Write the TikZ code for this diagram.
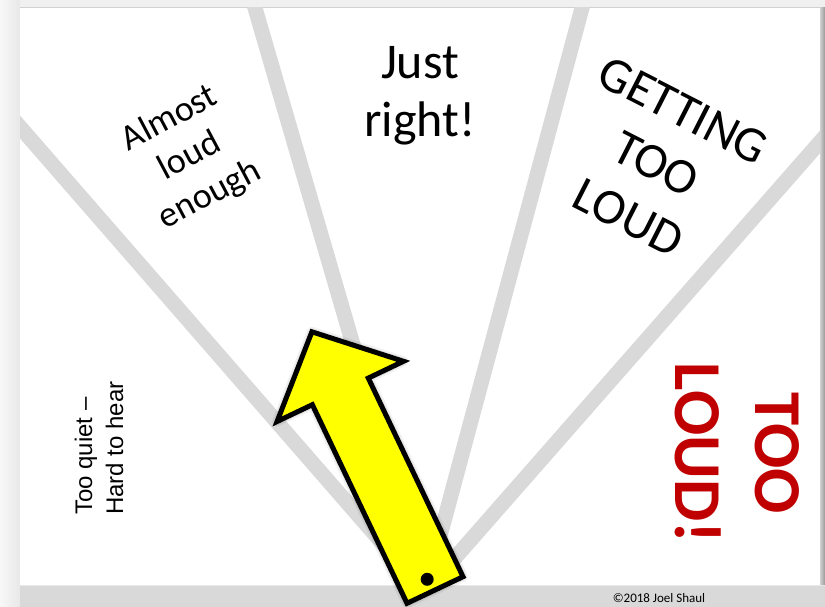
\documentclass[tikz,border=0pt]{standalone}
\usepackage{fontspec}
\setmainfont{Carlito}
\newfontfamily\arialf{Liberation Sans}
\usetikzlibrary{calc}
\definecolor{raygray}{HTML}{D9D9D9}
\definecolor{bandgray}{HTML}{D9D9D9}
\definecolor{pagegray}{HTML}{F0F0F0}
\definecolor{loudred}{HTML}{C00000}
\definecolor{arrowyellow}{HTML}{FFFF00}
\begin{document}
\begin{tikzpicture}[x=1pt,y=-1pt,
  ray/.style={draw=raygray, line width=15pt},
  lbl/.style={inner sep=0pt, align=center, text=black},
  arrowshape/.style={fill=arrowyellow, draw=black, line width=5pt, line join=miter, miter limit=10},
  shadowcopy/.style={fill=black, draw=black, opacity=0.05, line join=round}]
\useasboundingbox (0,0) rectangle (825,607);
% frame
\fill[pagegray] (0,0) rectangle (825,607);
\shade[left color=white!97!black, right color=white!91!black] (0,0) rectangle (20,607);
\fill[white!94!black] (20,0) rectangle (825,8);
\draw[white!82!black, line width=1pt] (20,8) -- (820,8);
\shade[left color=white!82!black, right color=white!60!black] (820,8) rectangle (825,607);
\fill[white] (20,8) rectangle (820,585);
% rays
\coordinate (ctr) at (425,592);
\coordinate (ea) at (20,127);
\coordinate (eb) at (255,8);
\coordinate (ec) at (582,8);
\coordinate (ed) at (820,142);
\begin{scope}
\clip (20,8) rectangle (820,585);
\draw[ray] (ctr) -- ($(ctr)!1.1!(ea)$);
\draw[ray] (ctr) -- ($(ctr)!1.1!(eb)$);
\draw[ray] (ctr) -- ($(ctr)!1.1!(ec)$);
\draw[ray] (ctr) -- ($(ctr)!1.1!(ed)$);
\end{scope}
% bottom band
\fill[bandgray] (20,585) rectangle (825,607);
\draw[white!91!black, line width=1pt] (20,585.5) -- (825,585.5);
% arrow
\coordinate (tr) at (463.0,576.7);
\coordinate (tl) at (407.0,603.3);
\coordinate (rn) at (368.3,378.1);
\coordinate (ln) at (312.35,404.7);
\coordinate (rb) at (403.5,361.3);
\coordinate (lb) at (277.1,421.5);
\coordinate (tip) at (311.9,331.8);
\foreach \s/\w in {2/10,3/7,4/4,5/2}{
  \begin{scope}[shift={(\s,\s)}]
  \filldraw[shadowcopy, line width=\w pt] (tr) -- (rn) -- (rb) -- (tip) -- (lb) -- (ln) -- (tl) -- cycle;
  \end{scope}
}
\filldraw[arrowshape] (tr) -- (rn) -- (rb) -- (tip) -- (lb) -- (ln) -- (tl) -- cycle;
\fill[black] (427.2,579.3) circle (6.5pt);
% labels
\node[lbl, font=\fontsize{50}{58}\selectfont] (just) at (420,96) {Just\\right!};
\node[lbl, rotate=28, font=\fontsize{36}{43}\selectfont] (almost) at (190,157) {Almost\\loud\\enough};
\node[lbl, rotate=-27, font=\fontsize{50}{60}\selectfont] (getting) at (656,164) {GETTING\\TOO\\LOUD};
\node[inner sep=0pt, align=left, rotate=90, font=\arialf\fontsize{24}{31}\selectfont] (quiet) at (99,448) {Too quiet –\\Hard to hear};
\node[lbl, rotate=-90, text=loudred, font=\bfseries\fontsize{67}{80}\selectfont] (loud) at (737,453) {TOO\\LOUD!};
\node[inner sep=0pt, font=\fontsize{13}{15}\selectfont] (copy) at (659,598) {©2018 Joel Shaul};
\end{tikzpicture}
\end{document}
